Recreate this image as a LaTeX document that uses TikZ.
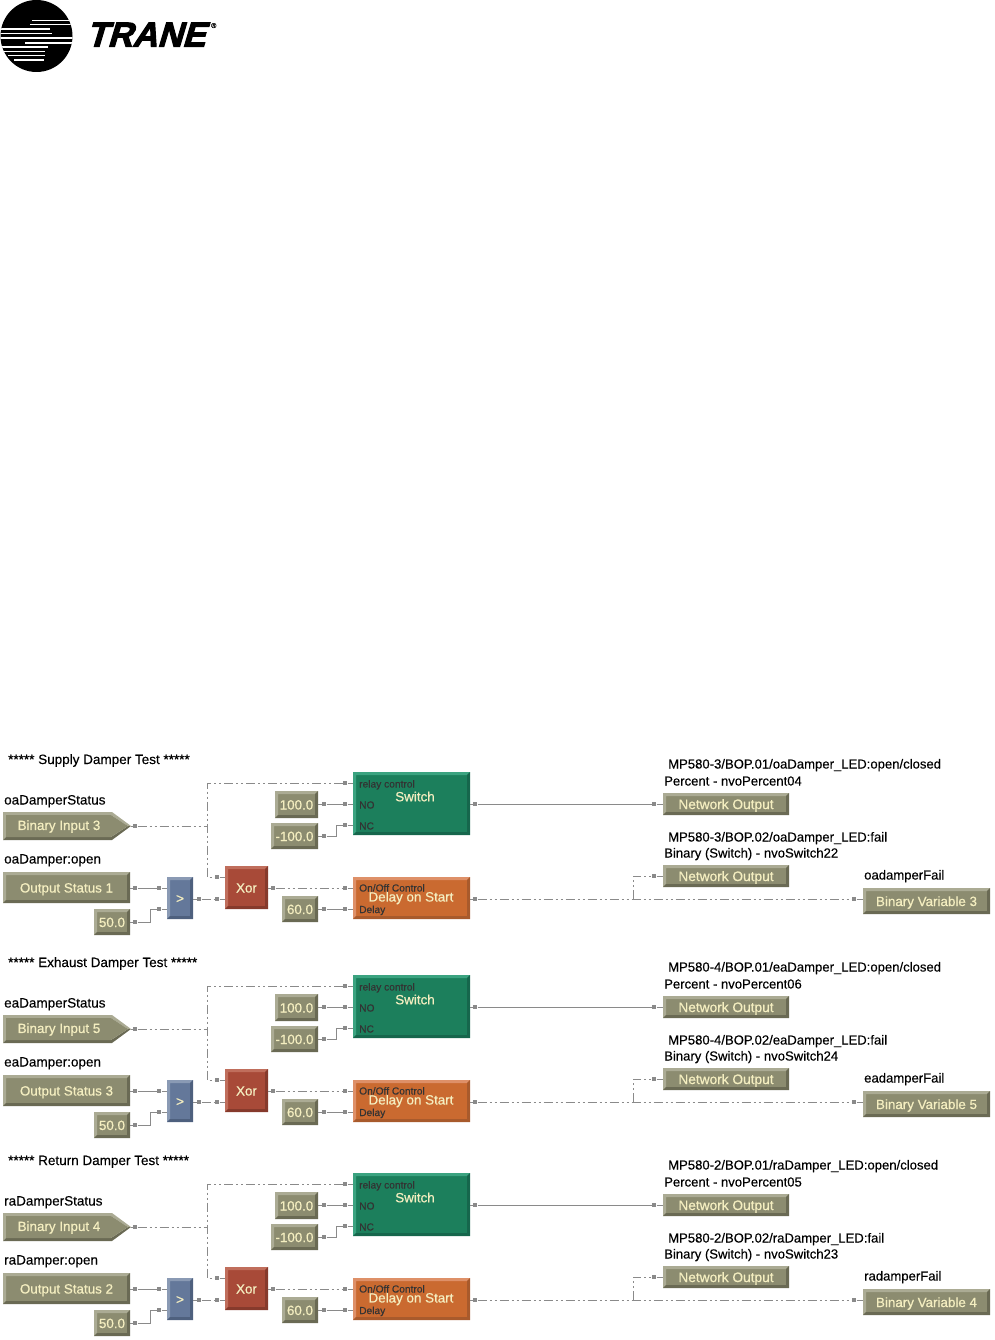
\documentclass[tikz,border=0pt]{standalone}
\usepackage{fontspec}
\setmainfont{Liberation Sans}[FakeBold=0.35]
\newfontface\blockfont{Liberation Sans}[FakeBold=0.6]
\newfontface\tranefont{Liberation Sans Bold}[FakeSlant=0.3,FakeBold=3]
\definecolor{olivef}{HTML}{8C8C70}\definecolor{olivel}{HTML}{ABAB94}\definecolor{olived}{HTML}{6A6A54}
\definecolor{greenf}{HTML}{1C7F5C}\definecolor{greenl}{HTML}{3BA380}\definecolor{greend}{HTML}{16664C}
\definecolor{orangef}{HTML}{CA6A30}\definecolor{orangel}{HTML}{DE9068}\definecolor{oranged}{HTML}{A85A2C}
\definecolor{redf}{HTML}{A84A38}\definecolor{redl}{HTML}{C06E5C}\definecolor{redd}{HTML}{863A2C}
\definecolor{bluef}{HTML}{64789A}\definecolor{bluel}{HTML}{8A9AB4}\definecolor{blued}{HTML}{4E607E}
\definecolor{wire}{HTML}{8A8A8A}\definecolor{cream}{HTML}{F4EEC0}
\tikzset{
 x=1pt,y=-1pt,
 bevel/.style n args={3}{draw=none,fill=#1,rectangle,inner sep=0pt,text=cream,font=\fontsize{13.4}{13.4}\blockfont,
   path picture={
    \coordinate (nw) at (path picture bounding box.north west);
    \coordinate (se) at (path picture bounding box.south east);
    \coordinate (ne) at (path picture bounding box.north east);
    \coordinate (sw) at (path picture bounding box.south west);
    \fill[#2] (nw) -- (ne) -- ([xshift=-3pt,yshift=-3pt]ne) -- ([xshift=3pt,yshift=-3pt]nw) -- ([xshift=3pt,yshift=3pt]sw) -- (sw) -- cycle;
    \fill[#3] (se) -- (ne) -- ([xshift=-3pt,yshift=-3pt]ne) -- ([xshift=-3pt,yshift=3pt]se) -- ([xshift=3pt,yshift=3pt]sw) -- (sw) -- cycle;
   }},
 oliveblk/.style={bevel={olivef}{olivel}{olived}},
 greenblk/.style={bevel={greenf}{greenl}{greend}},
 orangeblk/.style={bevel={orangef}{orangel}{oranged}},
 redblk/.style={bevel={redf}{redl}{redd}},
 blueblk/.style={bevel={bluef}{bluel}{blued}},
 netout/.style={font=\fontsize{13.7}{13.7}\blockfont},
 port/.style={fill=wire,inner sep=0pt,minimum size=4.6pt,rectangle},
 solidw/.style={draw=wire,line width=1pt},
 dashw/.style={draw=wire,line width=1pt,dash pattern=on 9pt off 3pt on 2pt off 3pt on 2pt off 3pt},
 lab/.style={anchor=base west,inner sep=0pt,text=black,font=\fontsize{13.5}{13.5}\selectfont},
 rlab/.style={anchor=base west,inner sep=0pt,text=black,font=\fontsize{13.1}{13.1}\selectfont},
 inlab/.style={anchor=base west,inner sep=0pt,text=black!80,font=\fontsize{10.2}{10.2}\selectfont},
 stripe/.style={draw=white,line width=1.5pt},
}
\newcommand{\pxbox}[7]{%
 \pgfmathsetmacro{\bw}{#4-#2}\pgfmathsetmacro{\bh}{#5-#3}%
 \pgfmathsetmacro{\bcx}{(#4+#2)/2}\pgfmathsetmacro{\bcy}{(#5+#3)/2}%
 \node[#6,minimum width=\bw pt,minimum height=\bh pt] (#1) at (\bcx,\bcy) {\raisebox{0pt}[10pt][0pt]{#7}};}
\newcommand{\dampersection}[9]{%
 \begin{scope}[yshift=-#2pt]
 \node[lab] (#1title) at (8,764) {#3};
 \node[lab] (#1status) at (4,804.5) {#4};
 \node[lab] (#1open) at (4,863.5) {#6};
 \node[rlab] (#1mpa) at (668,768.5) {\csname mpa#1\endcsname};
 \node[rlab] (#1pct) at (664,785.5) {\csname pct#1\endcsname};
 \node[rlab] (#1mpb) at (668,841.5) {\csname mpb#1\endcsname};
 \node[rlab] (#1bin) at (664,857.5) {\csname bin#1\endcsname};
 \node[rlab] (#1fail) at (864,879.5) {#8};
 \fill[olivel] (3,812) -- (112,812) -- (131,826) -- (128,826) -- (111,815) -- (6,815) -- (6,837) -- (3,840) -- cycle;
 \fill[olived] (3,840) -- (112,840) -- (131,826) -- (128,826) -- (111,837) -- (6,837) -- cycle;
 \fill[olivef] (6,815) -- (111,815) -- (128,826) -- (111,837) -- (6,837) -- cycle;
 \node[inner sep=0pt,text=cream,font=\fontsize{13.4}{13.4}\blockfont] (#1bi) at (59,826.5) {#5};
 \coordinate (#1bitip) at (131,826);
 \pxbox{#1os}{3}{872}{130}{903}{oliveblk}{#7}
 \pxbox{#1fifty}{94}{909}{130}{935}{oliveblk}{50.0}
 \pxbox{#1gt}{167}{877}{193}{919}{blueblk}{\textbf{>}}
 \pxbox{#1xor}{225}{866}{268}{909}{redblk}{Xor}
 \pxbox{#1hun}{275}{791}{318}{818}{oliveblk}{100.0}
 \pxbox{#1mhun}{271}{823}{318}{849}{oliveblk}{-100.0}
 \pxbox{#1sixty}{282}{896}{318}{922}{oliveblk}{60.0}
 \pxbox{#1sw}{353}{772}{470}{835}{greenblk}{}
 \pxbox{#1dl}{353}{877}{470}{919}{orangeblk}{}
 \pxbox{#1noa}{663}{793}{789}{815}{oliveblk,netout}{Network Output}
 \pxbox{#1nob}{663}{865}{789}{887}{oliveblk,netout}{Network Output}
 \pxbox{#1bv}{863}{888}{990}{914}{oliveblk}{#9}
 \node[text=cream,inner sep=0pt,font=\fontsize{13.4}{13.4}\blockfont] (#1swt) at (415,796.5) {Switch};
 \node[text=cream,inner sep=0pt,font=\fontsize{13.4}{13.4}\blockfont] (#1dlt) at (411,898) {Delay on Start};
 \node[inlab] (#1rc) at (359,787.5) {relay control};
 \node[inlab] (#1no) at (359,808.5) {NO};
 \node[inlab] (#1nc) at (359,829.5) {NC};
 \node[inlab] (#1oo) at (359,891.5) {On/Off Control};
 \node[inlab] (#1dd) at (359,913) {Delay};
 \foreach \pn/\px/\py in {a/135/826,b/135/888,c/159/888,d/135/922,e/159/909,f/199/899,g/217/899,h/217/877,i/273/888,j/345/888,k/324/909,l/345/909,m/324/804,n/345/804,o/324/836,p/345/825,q/345/783,r/475/804,s/654/804,t/475/899,u/654/876,v/854/899}
   {\node[port] (#1\pn) at (\px,\py) {};}
 \coordinate (#1v1) at (207,826);
 \coordinate (#1v2) at (207,783);
 \coordinate (#1v3) at (207,877);
 \coordinate (#1br) at (633,899);
 \coordinate (#1brt) at (633,876);
 \draw[solidw] (#1os.east |- #1b) -- (#1b) -- (#1c) -- (#1gt.west |- #1c);
 \draw[solidw] (#1fifty.east |- #1d) -- (#1d) -- (150,922) -- (150,909) -- (#1e) -- (#1gt.west |- #1e);
 \draw[solidw] (#1hun.east |- #1m) -- (#1m) -- (#1n) -- (#1sw.west |- #1n);
 \draw[solidw] (#1mhun.east |- #1o) -- (#1o) -- (336,836) -- (336,825) -- (#1p) -- (#1sw.west |- #1p);
 \draw[solidw] (#1sixty.east |- #1k) -- (#1k) -- (#1l) -- (#1dl.west |- #1l);
 \draw[solidw] (#1sw.east |- #1r) -- (#1r) -- (#1s) -- (#1noa.west |- #1s);
 \draw[dashw] (#1bitip) -- (#1a) -- (#1v1);
 \draw[dashw] (#1sw.west |- #1q) -- (#1q) -- (#1v2) -- (#1v3) -- (#1h) -- (#1xor.west |- #1h);
 \draw[dashw] (#1gt.east |- #1f) -- (#1f) -- (#1g) -- (#1xor.west |- #1g);
 \draw[dashw] (#1xor.east |- #1i) -- (#1i) -- (#1j) -- (#1dl.west |- #1j);
 \draw[dashw] (#1dl.east |- #1t) -- (#1t) -- (#1v) -- (#1bv.west |- #1v);
 \draw[dashw] (#1br) -- (#1brt) -- (#1u) -- (#1nob.west |- #1u);
 \end{scope}}
\def\mpaA{MP580-3/BOP.01/oaDamper\_LED:open/closed}\def\pctA{Percent - nvoPercent04}
\def\mpbA{MP580-3/BOP.02/oaDamper\_LED:fail}\def\binA{Binary (Switch) - nvoSwitch22}
\def\mpaB{MP580-4/BOP.01/eaDamper\_LED:open/closed}\def\pctB{Percent - nvoPercent06}
\def\mpbB{MP580-4/BOP.02/eaDamper\_LED:fail}\def\binB{Binary (Switch) - nvoSwitch24}
\def\mpaC{MP580-2/BOP.01/raDamper\_LED:open/closed}\def\pctC{Percent - nvoPercent05}
\def\mpbC{MP580-2/BOP.02/raDamper\_LED:fail}\def\binC{Binary (Switch) - nvoSwitch23}
\begin{document}
\begin{tikzpicture}
\useasboundingbox (0,0) rectangle (994,1340);
\fill[black] (36.5,36) circle (36);
\begin{scope}
\clip (36.5,36) circle (36);
\foreach \ya/\xa/\xb in {20.5/32/70,24.5/30/73,29/0/50,33.5/0/52,38/0/75,43/25/75,47/0/48,51.5/4/45,55.5/8/45,60/14/44}
  {\draw[stripe] (\xa,\ya) -- (\xb,\ya);}
\end{scope}
\node[inner sep=0pt,anchor=base west,text=black,font=\fontsize{34.5}{34.5}\tranefont] (trane) at (86,46.5) {TRANE};
\node[inner sep=0pt,anchor=base west,text=black,font=\fontsize{7}{7}\selectfont] (reg) at (211,28) {®};
\dampersection{A}{0}{***** Supply Damper Test *****}{oaDamperStatus}{Binary Input 3}{oaDamper:open}{Output Status 1}{oadamperFail}{Binary Variable 3}
\dampersection{B}{203}{***** Exhaust Damper Test *****}{eaDamperStatus}{Binary Input 5}{eaDamper:open}{Output Status 3}{eadamperFail}{Binary Variable 5}
\dampersection{C}{401}{***** Return Damper Test *****}{raDamperStatus}{Binary Input 4}{raDamper:open}{Output Status 2}{radamperFail}{Binary Variable 4}
\end{tikzpicture}
\end{document}
